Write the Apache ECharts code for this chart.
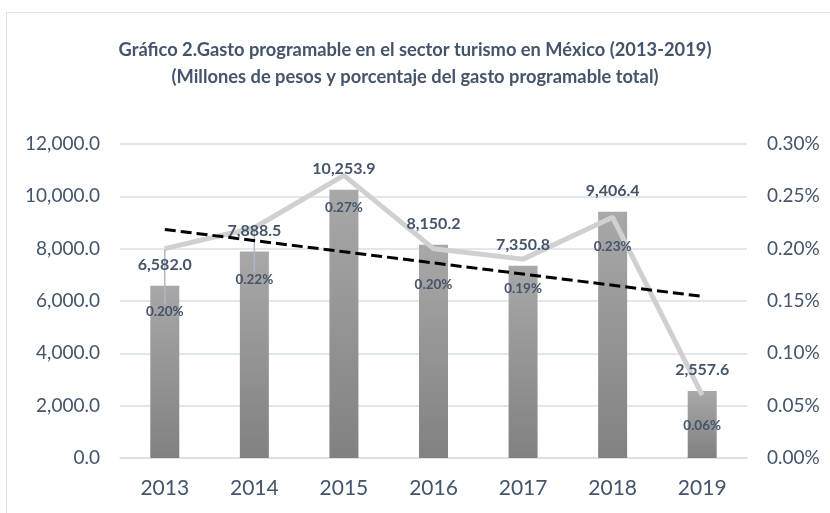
<!DOCTYPE html>
<html><head><meta charset="utf-8">
<script src="https://cdn.jsdelivr.net/npm/echarts@6/dist/echarts.min.js"></script>
<style>
html,body{margin:0;padding:0;background:#fff;overflow:hidden;}
#wrap{position:relative;width:830px;height:513px;overflow:hidden;}
#chart{position:absolute;left:0;top:0;width:830px;height:513px;}
#frame{position:absolute;left:6px;top:12px;width:840px;height:520px;border:1px solid #dde2ea;pointer-events:none;}
</style>
</head><body>
<div id="wrap"><div id="frame"></div><div id="chart"></div></div>
<script>
const years = ['2013','2014','2015','2016','2017','2018','2019'];
const gasto = [6582.0, 7888.5, 10253.9, 8150.2, 7350.8, 9406.4, 2557.6];
const porcentaje = [0.20, 0.22, 0.27, 0.20, 0.19, 0.23, 0.06];
const tendencia = [8735, null, null, null, null, null, 6176];
const leftTicks = {min: 0, max: 12000, interval: 2000};
const rightTicks = {min: 0, max: 0.30, interval: 0.05};

const pctLabelDy = [55, 44, 25, 28, 22, 22, 23];
const txt = '#44546a';
const fam = 'Lato, "Open Sans", sans-serif';

const chart = echarts.init(document.getElementById('chart'), null, {renderer: 'canvas'});
const fmt = v => v.toLocaleString('en-US', {minimumFractionDigits: 1, maximumFractionDigits: 1});

chart.setOption({
  animation: false,
  backgroundColor: 'transparent',
  title: {
    text: 'Gráfico 2.Gasto programable en el sector turismo en México (2013-2019)\n(Millones de pesos y porcentaje del gasto programable total)',
    left: 'center', top: 32,
    textStyle: {fontFamily: fam, fontWeight: 'bold', fontSize: 18.3, color: txt, lineHeight: 27}
  },
  grid: {left: 120, right: 83, top: 144, bottom: 55},
  xAxis: {
    type: 'category', data: years,
    axisTick: {show: false},
    axisLine: {show: true, lineStyle: {color: '#d9dee8', width: 1.5}},
    axisLabel: {color: txt, fontFamily: fam, fontSize: 21, margin: 20}
  },
  yAxis: [
    {type: 'value', min: leftTicks.min, max: leftTicks.max, interval: leftTicks.interval,
     axisLine: {show: false}, axisTick: {show: false},
     splitLine: {lineStyle: {color: '#d9dee8', width: 1.5}},
     axisLabel: {color: txt, fontFamily: fam, fontSize: 19, margin: 20, formatter: v => fmt(v)}},
    {type: 'value', min: rightTicks.min, max: rightTicks.max, interval: rightTicks.interval,
     axisLine: {show: false}, axisTick: {show: false}, splitLine: {show: false},
     axisLabel: {color: txt, fontFamily: fam, fontSize: 19, margin: 20, formatter: v => v.toFixed(2) + '%'}}
  ],
  series: [
    {
      type: 'bar', data: gasto, barWidth: 29, yAxisIndex: 0, z: 2,
      itemStyle: {color: new echarts.graphic.LinearGradient(0, 0, 0, 1, [
        {offset: 0, color: '#a8a8a8'}, {offset: 1, color: '#818181'}])}
    },
    {
      type: 'line', data: porcentaje.map((v, i) => ({
        value: v,
        labelLine: i < 2 ? {show: true, lineStyle: {color: '#adb9ca', width: 1.5}} : {show: false}
      })),
      yAxisIndex: 1,
      symbol: 'circle', symbolSize: 1, itemStyle: {color: 'rgba(0,0,0,0)', borderWidth: 0},
      lineStyle: {color: '#d0d0d0', width: 5},
      label: {show: true, position: 'bottom', distance: 0, color: txt, fontFamily: fam,
              fontWeight: 'bold', fontSize: 13.5, formatter: p => p.value.toFixed(2) + '%'},
      labelLayout: p => ({dy: pctLabelDy[p.dataIndex]}),
      z: 3
    },
    {
      type: 'line', data: tendencia, yAxisIndex: 0, connectNulls: true,
      symbol: 'none', lineStyle: {color: '#000', width: 3, type: [11, 5]}, z: 4
    },
    {
      type: 'bar', data: gasto, barWidth: 29, barGap: '-100%', yAxisIndex: 0, z: 6,
      itemStyle: {color: 'rgba(0,0,0,0)'},
      label: {show: true, position: 'top', distance: 13, color: txt, fontFamily: fam,
              fontWeight: 'bold', fontSize: 16, formatter: p => fmt(p.value)}
    }
  ]
});
</script>
</body></html>
